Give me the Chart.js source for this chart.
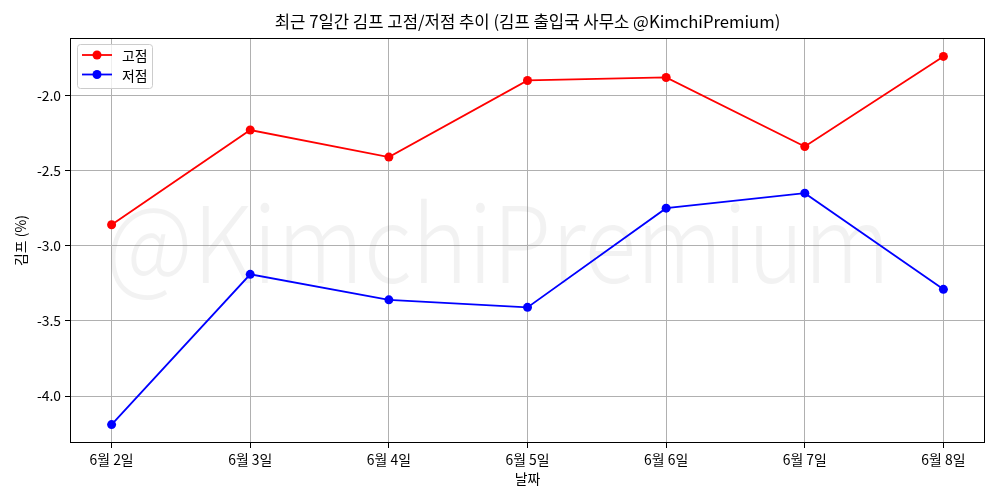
<!DOCTYPE html>
<html>
<head>
<meta charset="utf-8">
<script src="https://cdn.jsdelivr.net/npm/chart.js@4"></script>
<style>
html,body{margin:0;padding:0;background:#fff;}
#wrap{width:1000px;height:500px;}
</style>
</head>
<body>
<div id="wrap"><canvas id="c" width="1000" height="500"></canvas></div>
<script>
const categories = ['6월 2일','6월 3일','6월 4일','6월 5일','6월 6일','6월 7일','6월 8일'];
const highValues = [-2.86, -2.23, -2.41, -1.90, -1.88, -2.34, -1.74];
const lowValues  = [-4.19, -3.19, -3.36, -3.41, -2.75, -2.65, -3.29];
const yTickValues = [-4.0, -3.5, -3.0, -2.5, -2.0];
const seriesNames = ['고점','저점'];
const titleText = '최근 7일간 김프 고점/저점 추이 (김프 출입국 사무소 @KimchiPremium)';
const xTitle = '날짜';
const yTitle = '김프 (%)';
const watermark = '@KimchiPremium';

const FONT = "'Noto Sans CJK KR', 'Noto Sans', sans-serif";

const allVals = highValues.concat(lowValues);
const dMin = Math.min(...allVals), dMax = Math.max(...allVals);
const yMargin = (dMax - dMin) * 0.05;
const xMargin = (categories.length - 1) * 0.05;

const toPts = arr => arr.map((v, i) => ({x: i, y: v}));

const watermarkPlugin = {
  id: 'watermark',
  beforeDatasetsDraw(chart) {
    const ctx = chart.ctx;
    ctx.save();
    ctx.font = "300 106px " + FONT;
    const w = ctx.measureText(watermark).width;
    const sx = 785 / w;
    ctx.translate(498, 283);
    ctx.scale(sx, 1);
    ctx.fillStyle = 'rgba(128,128,128,0.1)';
    ctx.textAlign = 'center';
    ctx.textBaseline = 'alphabetic';
    ctx.fillText(watermark, 0, 0);
    ctx.restore();
  }
};

const framePlugin = {
  id: 'frame',
  afterDatasetsDraw(chart) {
    const a = chart.chartArea, ctx = chart.ctx;
    ctx.save();
    ctx.strokeStyle = '#000';
    ctx.lineWidth = 1;
    ctx.strokeRect(Math.round(a.left) + 0.5, Math.round(a.top) + 0.5,
                   Math.round(a.right - a.left) - 1, Math.round(a.bottom - a.top) - 1);
    // title
    ctx.fillStyle = '#000';
    ctx.font = "16.7px " + FONT;
    ctx.textAlign = 'center';
    ctx.textBaseline = 'middle';
    ctx.fillText(titleText, (a.left + a.right) / 2, 22);
    // legend
    const x0 = 77.5, y0 = 44.5, w = 75, h = 44;
    ctx.beginPath();
    if (ctx.roundRect) ctx.roundRect(x0, y0, w, h, 3); else ctx.rect(x0, y0, w, h);
    ctx.fillStyle = 'rgba(255,255,255,0.8)';
    ctx.fill();
    ctx.strokeStyle = '#cccccc';
    ctx.stroke();
    chart.data.datasets.forEach((ds, i) => {
      const yy = 55 + i * 19.5;
      ctx.strokeStyle = ds.borderColor;
      ctx.lineWidth = 1.8;
      ctx.beginPath();
      ctx.moveTo(82, yy); ctx.lineTo(112, yy);
      ctx.stroke();
      ctx.fillStyle = ds.borderColor;
      ctx.beginPath();
      ctx.arc(97, yy, 4.5, 0, Math.PI * 2);
      ctx.fill();
      ctx.fillStyle = '#000';
      ctx.font = "13.9px " + FONT;
      ctx.textAlign = 'left';
      ctx.textBaseline = 'middle';
      ctx.fillText(ds.label, 122, yy + 1);
    });
    ctx.restore();
  }
};

new Chart(document.getElementById('c'), {
  type: 'line',
  data: {
    datasets: [
      {label: seriesNames[0], data: toPts(highValues), borderColor: '#ff0000', backgroundColor: '#ff0000',
       borderWidth: 1.8, pointRadius: 4.5, pointBorderWidth: 0, pointBackgroundColor: '#ff0000', tension: 0},
      {label: seriesNames[1], data: toPts(lowValues), borderColor: '#0000ff', backgroundColor: '#0000ff',
       borderWidth: 1.8, pointRadius: 4.5, pointBorderWidth: 0, pointBackgroundColor: '#0000ff', tension: 0}
    ]
  },
  options: {
    responsive: false,
    animation: false,
    layout: {padding: {left: 0, right: 15, top: 38, bottom: 0}},
    plugins: {
      legend: {display: false},
      tooltip: {enabled: false},
      title: {display: false}
    },
    scales: {
      x: {
        type: 'linear',
        min: -xMargin, max: categories.length - 1 + xMargin,
        afterBuildTicks: ax => { ax.ticks = categories.map((c, i) => ({value: i})); },
        afterFit: ax => { ax.height = 57; },
        ticks: {callback: v => categories[v], color: '#000', padding: 3, maxRotation: 0,
                font: {family: FONT, size: 13.9}},
        grid: {color: '#b0b0b0', lineWidth: 1, tickLength: 5, tickColor: '#000'},
        border: {display: false},
        title: {display: true, text: xTitle, color: '#000', font: {family: FONT, size: 13.9},
                padding: {top: 0, bottom: 13}}
      },
      y: {
        type: 'linear',
        min: dMin - yMargin, max: dMax + yMargin,
        afterBuildTicks: ax => { ax.ticks = yTickValues.map(v => ({value: v})); },
        afterFit: ax => { ax.width = 70; },
        ticks: {callback: v => v.toFixed(1), color: '#000', padding: 4,
                font: {family: FONT, size: 13.9}},
        grid: {color: '#b0b0b0', lineWidth: 1, tickLength: 5, tickColor: '#000'},
        border: {display: false},
        title: {display: true, text: yTitle, color: '#000', font: {family: FONT, size: 13.9},
                padding: {top: 12, bottom: 0}}
      }
    }
  },
  plugins: [watermarkPlugin, framePlugin]
});
</script>
</body>
</html>
